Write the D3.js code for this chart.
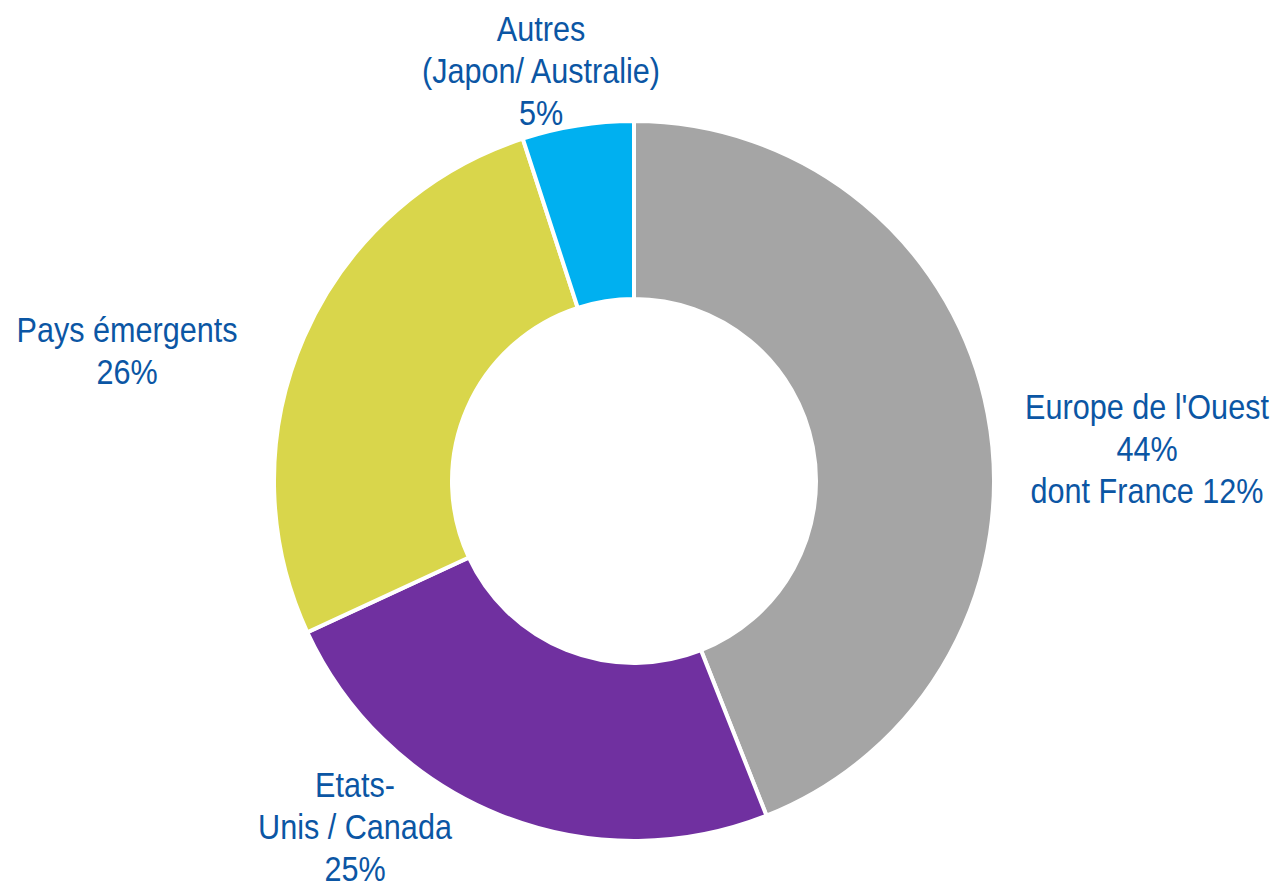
<!DOCTYPE html>
<html>
<head>
<meta charset="utf-8">
<script src="https://cdn.jsdelivr.net/npm/d3@7"></script>
<style>
  html, body { margin: 0; padding: 0; background: #ffffff; }
  svg { display: block; }
  text { font-family: "Liberation Sans", Arial, sans-serif; }
</style>
</head>
<body>
<svg id="chart" width="1276" height="887"></svg>
<script>
"use strict";

// Chart data (slice sizes as drawn; labels as printed)
const categories = ["Europe de l'Ouest", "Etats-Unis / Canada", "Pays émergents", "Autres"];
const shares = [44, 24.1, 26.9, 5];
const colors = ["#a5a5a5", "#7030a0", "#d9d64b", "#00b0f0"];
const labelLines = [
  ["Europe de l'Ouest", "44%", "dont France 12%"],
  ["Etats-", "Unis / Canada", "25%"],
  ["Pays émergents", "26%"],
  ["Autres", "(Japon/ Australie)", "5%"]
];

// Label anchors (x centre, first baseline)
const labelAnchors = [[1147, 419], [355, 797], [127, 342], [541, 41]];

(function() {
  const svg = d3.select("#chart");
  const cx = 634, cy = 481;
  const outerR = 360, innerR = 182;
  const lineH = 42;
  const narrow = 0.85; // squeeze to mimic a narrow face

  const data = categories.map((c, i) => ({ name: c, value: shares[i], color: colors[i], lines: labelLines[i], pos: labelAnchors[i] }));

  const pie = d3.pie()
    .value(d => d.value)
    .sort(null);

  const arc = d3.arc()
    .innerRadius(innerR)
    .outerRadius(outerR);

  const g = svg.append("g")
    .attr("transform", "translate(" + cx + "," + cy + ")");

  g.selectAll("path")
    .data(pie(data))
    .enter()
    .append("path")
    .attr("d", arc)
    .attr("fill", d => d.data.color)
    .attr("stroke", "#ffffff")
    .attr("stroke-width", 4)
    .attr("stroke-linejoin", "miter");

  // Labels
  const labels = svg.selectAll("g.lbl")
    .data(data)
    .enter()
    .append("g")
    .attr("class", "lbl")
    .attr("transform", d => "translate(" + d.pos[0] + "," + d.pos[1] + ") scale(" + narrow + ",1)")
    .append("text")
    .attr("text-anchor", "middle")
    .attr("fill", "#0b56a4")
    .style("font-size", "36px");

  labels.each(function(d) {
    const t = d3.select(this);
    d.lines.forEach((line, i) => {
      t.append("tspan")
        .attr("x", 0)
        .attr("y", i * lineH)
        .text(line);
    });
  });
})();
</script>
</body>
</html>
